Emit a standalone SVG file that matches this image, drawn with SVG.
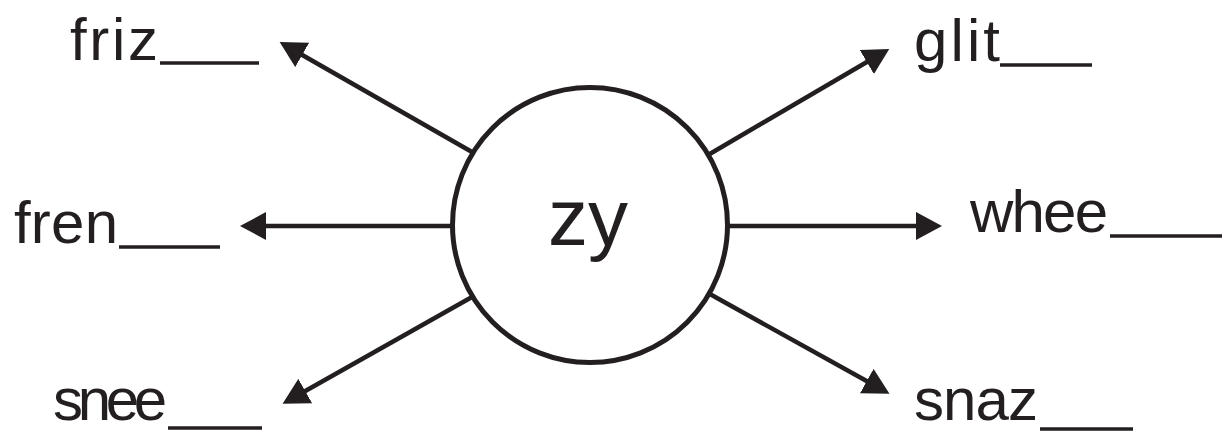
<svg xmlns="http://www.w3.org/2000/svg" width="1225" height="433" viewBox="0 0 1225 433">
<style>
.lbl{font-family:"Liberation Sans","Open Sans",sans-serif;font-size:60px;fill:#231f20}
.ul{stroke:#231f20;stroke-width:3.5}
.con{stroke:#231f20;stroke-width:4.5;fill:none;marker-end:url(#ah)}
</style>
<defs>
<marker id="ah" markerUnits="userSpaceOnUse" viewBox="0 0 26 28" markerWidth="26" markerHeight="28" refX="6" refY="14" orient="auto">
<path d="M0,0 L26,14 L0,28 Z" fill="#231f20"/>
</marker>
</defs>
<rect width="1225" height="433" fill="#fff"/>
<g id="connectors">
<line class="con" x1="472" y1="152" x2="297" y2="52"/>
<line class="con" x1="452" y1="226" x2="260" y2="226"/>
<line class="con" x1="472" y1="297" x2="300" y2="394"/>
<line class="con" x1="708" y1="155" x2="872" y2="59"/>
<line class="con" x1="728" y1="226" x2="922" y2="226"/>
<line class="con" x1="708" y1="293" x2="872" y2="384"/>
</g>
<g id="center">
<circle cx="590" cy="225" r="137.5" fill="#fff" stroke="#231f20" stroke-width="5"/>
<text x="588" y="245" text-anchor="middle" style="font-family:'Liberation Sans','Open Sans',sans-serif;font-size:80px;fill:#231f20">zy</text>
</g>
<g id="friz"><text class="lbl" x="70" y="60" textLength="88" lengthAdjust="spacing">friz</text><line class="ul" x1="160" y1="63" x2="259" y2="63"/></g>
<g id="fren"><text class="lbl" x="14" y="243" textLength="104" lengthAdjust="spacing">fren</text><line class="ul" x1="119" y1="247" x2="220" y2="247"/></g>
<g id="snee"><text class="lbl" x="53" y="420" textLength="114" lengthAdjust="spacing">snee</text><line class="ul" x1="168" y1="428" x2="262" y2="428"/></g>
<g id="glit"><text class="lbl" x="914" y="61" textLength="86" lengthAdjust="spacing">glit</text><line class="ul" x1="1000" y1="65" x2="1092" y2="65"/></g>
<g id="whee"><text class="lbl" x="970" y="232" textLength="138" lengthAdjust="spacing">whee</text><line class="ul" x1="1110" y1="236" x2="1222" y2="236"/></g>
<g id="snaz"><text class="lbl" x="914" y="420" textLength="124" lengthAdjust="spacing">snaz</text><line class="ul" x1="1040" y1="429" x2="1133" y2="429"/></g>
</svg>
